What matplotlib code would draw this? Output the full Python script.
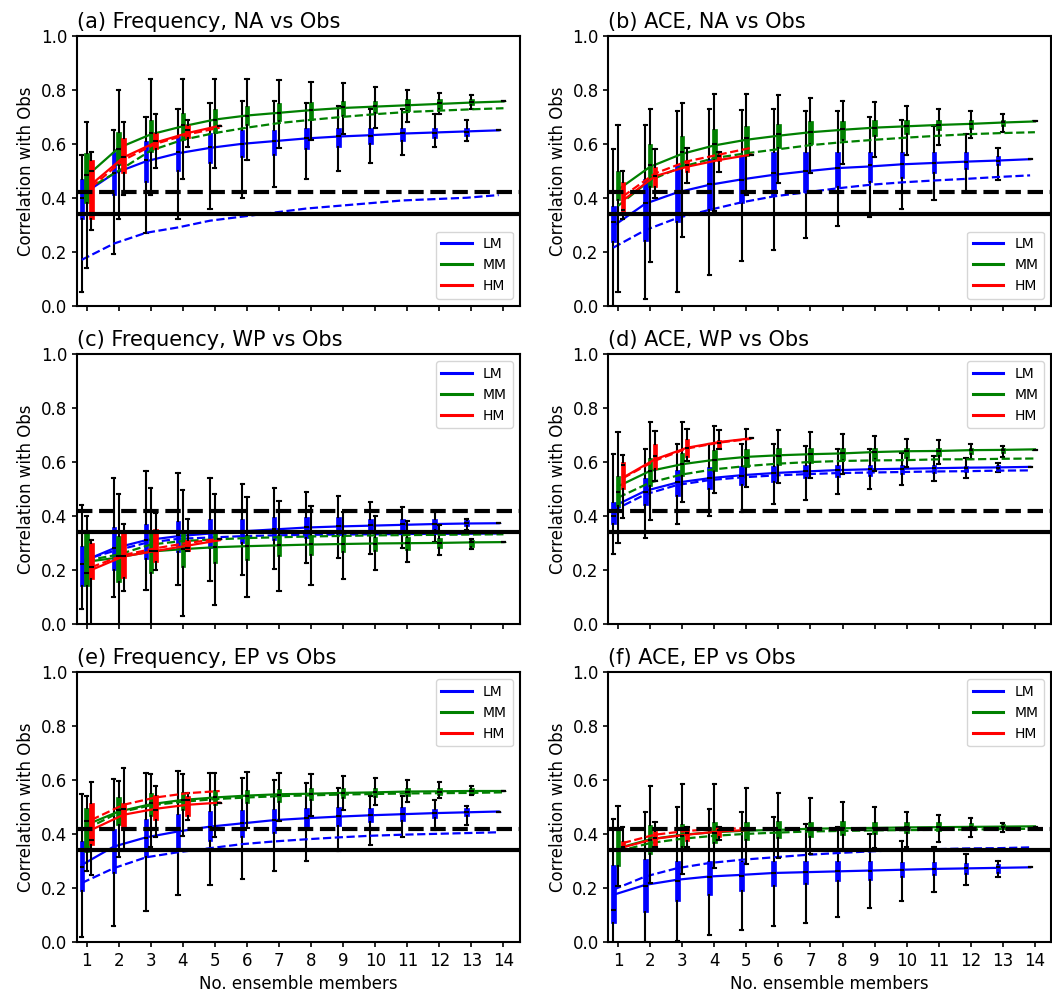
import numpy as np
import matplotlib.pyplot as plt
from matplotlib.lines import Line2D

# box rows: whisker low, q1, median, q3, whisker high (one row per ensemble size)
# (a) Frequency, NA
a_lm_box = [[0.05, 0.32, 0.40, 0.47, 0.56], [0.19, 0.41, 0.49, 0.57, 0.65],
            [0.27, 0.46, 0.54, 0.61, 0.70], [0.32, 0.50, 0.57, 0.63, 0.73],
            [0.36, 0.53, 0.59, 0.64, 0.75], [0.40, 0.55, 0.60, 0.65, 0.76],
            [0.44, 0.56, 0.61, 0.65, 0.76], [0.47, 0.58, 0.62, 0.66, 0.75],
            [0.50, 0.59, 0.63, 0.66, 0.74], [0.53, 0.60, 0.63, 0.66, 0.73],
            [0.56, 0.61, 0.64, 0.66, 0.73], [0.59, 0.62, 0.64, 0.66, 0.71],
            [0.61, 0.63, 0.645, 0.66, 0.69], [0.65] * 5]
a_lm_solid = [0.41, 0.49, 0.535, 0.565, 0.585, 0.60, 0.61, 0.62, 0.627, 0.632, 0.638, 0.642, 0.646, 0.65]
a_lm_dash = [0.17, 0.23, 0.27, 0.29, 0.315, 0.33, 0.345, 0.36, 0.37, 0.38, 0.39, 0.395, 0.40, 0.41]
a_mm_box = [[0.14, 0.38, 0.485, 0.565, 0.68], [0.32, 0.52, 0.58, 0.645, 0.80],
            [0.41, 0.57, 0.64, 0.69, 0.84], [0.47, 0.615, 0.67, 0.715, 0.84],
            [0.51, 0.64, 0.69, 0.73, 0.84], [0.54, 0.67, 0.705, 0.74, 0.84],
            [0.585, 0.685, 0.715, 0.75, 0.835], [0.615, 0.69, 0.725, 0.755, 0.83],
            [0.635, 0.705, 0.735, 0.76, 0.825], [0.66, 0.715, 0.74, 0.76, 0.81],
            [0.68, 0.72, 0.745, 0.765, 0.80], [0.71, 0.73, 0.75, 0.765, 0.79],
            [0.73, 0.745, 0.755, 0.765, 0.78], [0.757] * 5]
a_mm_solid = [0.48, 0.585, 0.635, 0.665, 0.69, 0.705, 0.715, 0.725, 0.733, 0.738, 0.743, 0.748, 0.753, 0.757]
a_mm_dash = [0.43, 0.50, 0.575, 0.615, 0.64, 0.66, 0.677, 0.689, 0.70, 0.71, 0.718, 0.723, 0.728, 0.732]
a_hm_box = [[0.28, 0.32, 0.50, 0.54, 0.57], [0.41, 0.49, 0.55, 0.62, 0.68],
            [0.51, 0.58, 0.61, 0.64, 0.71], [0.59, 0.62, 0.65, 0.67, 0.69], [0.667] * 5]
a_hm_solid = [0.45, 0.55, 0.605, 0.64, 0.667]
a_hm_dash = [0.44, 0.54, 0.60, 0.635, 0.66]

# (b) ACE, NA
b_lm_box = [[0.0, 0.235, 0.31, 0.37, 0.58], [0.025, 0.24, 0.38, 0.47, 0.67],
            [0.05, 0.31, 0.42, 0.52, 0.72], [0.115, 0.355, 0.45, 0.545, 0.73],
            [0.165, 0.38, 0.465, 0.555, 0.725], [0.205, 0.405, 0.49, 0.57, 0.73],
            [0.25, 0.42, 0.50, 0.57, 0.72], [0.295, 0.44, 0.51, 0.57, 0.72],
            [0.33, 0.46, 0.52, 0.57, 0.70], [0.36, 0.475, 0.525, 0.57, 0.69],
            [0.39, 0.49, 0.53, 0.57, 0.665], [0.42, 0.505, 0.532, 0.568, 0.635],
            [0.465, 0.52, 0.538, 0.555, 0.585], [0.543] * 5]
b_lm_solid = [0.295, 0.378, 0.42, 0.448, 0.468, 0.485, 0.498, 0.51, 0.516, 0.524, 0.529, 0.534, 0.538, 0.543]
b_lm_dash = [0.215, 0.28, 0.325, 0.355, 0.383, 0.405, 0.42, 0.435, 0.448, 0.457, 0.464, 0.47, 0.477, 0.483]
b_mm_box = [[0.05, 0.39, 0.42, 0.50, 0.67], [0.16, 0.44, 0.52, 0.60, 0.73],
            [0.255, 0.515, 0.57, 0.63, 0.75], [0.35, 0.54, 0.60, 0.655, 0.785],
            [0.41, 0.555, 0.62, 0.665, 0.785], [0.455, 0.585, 0.635, 0.675, 0.78],
            [0.49, 0.60, 0.645, 0.685, 0.77], [0.525, 0.615, 0.655, 0.685, 0.76],
            [0.55, 0.63, 0.66, 0.69, 0.755], [0.56, 0.635, 0.665, 0.69, 0.74],
            [0.595, 0.65, 0.67, 0.69, 0.73], [0.62, 0.655, 0.675, 0.69, 0.72],
            [0.645, 0.665, 0.68, 0.69, 0.71], [0.683] * 5]
b_mm_solid = [0.43, 0.515, 0.563, 0.594, 0.615, 0.63, 0.643, 0.652, 0.66, 0.665, 0.67, 0.674, 0.679, 0.683]
b_mm_dash = [0.37, 0.465, 0.515, 0.547, 0.565, 0.58, 0.595, 0.606, 0.615, 0.623, 0.63, 0.636, 0.64, 0.643]
b_hm_box = [[0.32, 0.345, 0.355, 0.46, 0.50], [0.40, 0.44, 0.48, 0.515, 0.58],
            [0.455, 0.495, 0.52, 0.54, 0.585], [0.495, 0.535, 0.555, 0.563, 0.57], [0.56] * 5]
b_hm_solid = [0.39, 0.48, 0.515, 0.54, 0.56]
b_hm_dash = [0.405, 0.49, 0.535, 0.56, 0.585]

# (c) Frequency, WP
c_lm_box = [[0.056, 0.14, 0.22, 0.29, 0.44], [0.10, 0.20, 0.28, 0.36, 0.54],
            [0.125, 0.24, 0.31, 0.37, 0.565], [0.145, 0.265, 0.33, 0.38, 0.56],
            [0.16, 0.28, 0.34, 0.39, 0.54], [0.18, 0.30, 0.345, 0.39, 0.52],
            [0.205, 0.31, 0.35, 0.395, 0.505], [0.225, 0.32, 0.36, 0.395, 0.49],
            [0.245, 0.33, 0.363, 0.395, 0.475], [0.26, 0.34, 0.365, 0.387, 0.452],
            [0.28, 0.34, 0.369, 0.387, 0.435], [0.305, 0.348, 0.371, 0.387, 0.415],
            [0.348, 0.363, 0.373, 0.385, 0.39], [0.373] * 5]
c_lm_solid = [0.23, 0.28, 0.31, 0.325, 0.335, 0.343, 0.35, 0.357, 0.361, 0.364, 0.367, 0.37, 0.372, 0.373]
c_lm_dash = [0.235, 0.27, 0.30, 0.315, 0.32, 0.325, 0.328, 0.33, 0.331, 0.332, 0.333, 0.334, 0.334, 0.335]
c_mm_box = [[-0.02, 0.14, 0.19, 0.34, 0.40], [-0.02, 0.155, 0.25, 0.325, 0.48],
            [-0.01, 0.19, 0.27, 0.34, 0.505], [0.03, 0.21, 0.278, 0.34, 0.495],
            [0.07, 0.225, 0.285, 0.34, 0.48], [0.10, 0.235, 0.288, 0.33, 0.47],
            [0.12, 0.25, 0.292, 0.33, 0.455], [0.145, 0.255, 0.295, 0.33, 0.437],
            [0.165, 0.265, 0.297, 0.325, 0.415], [0.20, 0.27, 0.297, 0.323, 0.40],
            [0.23, 0.275, 0.30, 0.323, 0.38], [0.255, 0.28, 0.30, 0.32, 0.365],
            [0.278, 0.286, 0.303, 0.311, 0.313], [0.303] * 5]
c_mm_solid = [0.23, 0.246, 0.268, 0.277, 0.284, 0.288, 0.291, 0.294, 0.296, 0.298, 0.299, 0.30, 0.302, 0.303]
c_mm_dash = [0.235, 0.257, 0.294, 0.307, 0.313, 0.318, 0.321, 0.324, 0.326, 0.328, 0.329, 0.33, 0.331, 0.332]
c_hm_box = [[-0.02, 0.165, 0.21, 0.30, 0.31], [0.12, 0.17, 0.25, 0.34, 0.37],
            [0.20, 0.23, 0.27, 0.35, 0.41], [0.27, 0.27, 0.28, 0.31, 0.39], [0.316] * 5]
c_hm_solid = [0.20, 0.25, 0.27, 0.29, 0.31]
c_hm_dash = [0.21, 0.255, 0.28, 0.30, 0.315]

# (d) ACE, WP
d_lm_box = [[0.26, 0.37, 0.40, 0.45, 0.63], [0.32, 0.44, 0.49, 0.54, 0.65],
            [0.37, 0.475, 0.525, 0.57, 0.665], [0.40, 0.50, 0.54, 0.58, 0.665],
            [0.415, 0.515, 0.55, 0.585, 0.665], [0.445, 0.525, 0.56, 0.585, 0.665],
            [0.46, 0.54, 0.567, 0.588, 0.66], [0.48, 0.545, 0.571, 0.588, 0.65],
            [0.50, 0.55, 0.573, 0.588, 0.647], [0.515, 0.555, 0.575, 0.588, 0.632],
            [0.53, 0.56, 0.578, 0.588, 0.623], [0.542, 0.563, 0.578, 0.585, 0.615],
            [0.563, 0.571, 0.579, 0.588, 0.598], [0.582] * 5]
d_lm_solid = [0.435, 0.493, 0.524, 0.54, 0.551, 0.559, 0.565, 0.57, 0.573, 0.575, 0.577, 0.579, 0.58, 0.582]
d_lm_dash = [0.42, 0.48, 0.515, 0.533, 0.543, 0.55, 0.555, 0.559, 0.561, 0.563, 0.565, 0.566, 0.568, 0.569]
d_mm_box = [[0.30, 0.437, 0.49, 0.55, 0.71], [0.385, 0.51, 0.567, 0.615, 0.75],
            [0.45, 0.548, 0.592, 0.632, 0.75], [0.486, 0.567, 0.608, 0.644, 0.734],
            [0.507, 0.58, 0.616, 0.65, 0.722], [0.524, 0.588, 0.623, 0.651, 0.718],
            [0.54, 0.598, 0.629, 0.651, 0.713], [0.554, 0.606, 0.635, 0.653, 0.705],
            [0.567, 0.61, 0.637, 0.653, 0.697], [0.583, 0.616, 0.641, 0.653, 0.687],
            [0.592, 0.623, 0.641, 0.651, 0.681], [0.61, 0.629, 0.644, 0.651, 0.668],
            [0.62, 0.632, 0.645, 0.653, 0.66], [0.645] * 5]
d_mm_solid = [0.51, 0.567, 0.592, 0.608, 0.619, 0.625, 0.629, 0.632, 0.637, 0.64, 0.641, 0.644, 0.645, 0.647]
d_mm_dash = [0.468, 0.524, 0.554, 0.573, 0.585, 0.594, 0.60, 0.604, 0.606, 0.607, 0.61, 0.61, 0.612, 0.613]
d_hm_box = [[0.394, 0.50, 0.59, 0.60, 0.625], [0.53, 0.573, 0.622, 0.666, 0.715],
            [0.604, 0.62, 0.653, 0.687, 0.724], [0.65, 0.65, 0.672, 0.681, 0.718], [0.688] * 5]
d_hm_solid = [0.542, 0.61, 0.653, 0.674, 0.688]
d_hm_dash = [0.54, 0.605, 0.65, 0.672, 0.686]

# (e) Frequency, EP
e_lm_box = [[0.02, 0.19, 0.28, 0.375, 0.55], [0.06, 0.255, 0.34, 0.42, 0.605],
            [0.115, 0.315, 0.385, 0.457, 0.628], [0.173, 0.346, 0.414, 0.475, 0.636],
            [0.21, 0.373, 0.426, 0.486, 0.626], [0.235, 0.389, 0.441, 0.49, 0.607],
            [0.262, 0.406, 0.453, 0.494, 0.601], [0.30, 0.419, 0.459, 0.496, 0.589],
            [0.336, 0.431, 0.468, 0.499, 0.573], [0.36, 0.444, 0.472, 0.496, 0.54],
            [0.388, 0.449, 0.475, 0.50, 0.54], [0.414, 0.459, 0.478, 0.494, 0.527],
            [0.435, 0.469, 0.484, 0.496, 0.506], [0.484] * 5]
e_lm_solid = [0.286, 0.354, 0.388, 0.41, 0.428, 0.44, 0.452, 0.459, 0.465, 0.47, 0.474, 0.478, 0.481, 0.484]
e_lm_dash = [0.219, 0.274, 0.314, 0.333, 0.348, 0.363, 0.373, 0.381, 0.388, 0.394, 0.398, 0.401, 0.404, 0.407]
e_mm_box = [[0.262, 0.333, 0.447, 0.496, 0.543], [0.314, 0.435, 0.49, 0.536, 0.598],
            [0.354, 0.469, 0.515, 0.552, 0.623], [0.394, 0.49, 0.527, 0.558, 0.623],
            [0.391, 0.509, 0.536, 0.564, 0.628], [0.422, 0.515, 0.542, 0.564, 0.632],
            [0.447, 0.521, 0.546, 0.568, 0.626], [0.469, 0.527, 0.549, 0.57, 0.622],
            [0.49, 0.533, 0.552, 0.57, 0.614], [0.509, 0.537, 0.556, 0.573, 0.607],
            [0.521, 0.542, 0.558, 0.57, 0.599], [0.533, 0.546, 0.558, 0.57, 0.593],
            [0.546, 0.548, 0.56, 0.57, 0.577], [0.56] * 5]
e_mm_solid = [0.435, 0.484, 0.511, 0.527, 0.536, 0.543, 0.548, 0.55, 0.553, 0.555, 0.558, 0.559, 0.56, 0.56]
e_mm_dash = [0.42, 0.48, 0.507, 0.52, 0.53, 0.536, 0.541, 0.544, 0.547, 0.549, 0.551, 0.552, 0.553, 0.555]
e_hm_box = [[0.249, 0.358, 0.377, 0.515, 0.593], [0.342, 0.416, 0.494, 0.517, 0.647],
            [0.388, 0.453, 0.488, 0.546, 0.58], [0.453, 0.469, 0.525, 0.54, 0.552], [0.517] * 5]
e_hm_solid = [0.416, 0.472, 0.494, 0.509, 0.517]
e_hm_dash = [0.453, 0.509, 0.536, 0.552, 0.56]

# (f) ACE, EP
f_lm_box = [[-0.01, 0.07, 0.12, 0.286, 0.456], [0.0, 0.111, 0.206, 0.309, 0.484],
            [0.002, 0.153, 0.225, 0.301, 0.502], [0.025, 0.175, 0.24, 0.299, 0.494],
            [0.043, 0.191, 0.246, 0.299, 0.484], [0.058, 0.206, 0.256, 0.301, 0.462],
            [0.07, 0.216, 0.259, 0.301, 0.437], [0.091, 0.225, 0.262, 0.299, 0.425],
            [0.128, 0.231, 0.265, 0.299, 0.40], [0.153, 0.24, 0.268, 0.296, 0.375],
            [0.184, 0.247, 0.272, 0.295, 0.351], [0.21, 0.252, 0.274, 0.293, 0.326],
            [0.241, 0.256, 0.277, 0.289, 0.299], [0.277] * 5]
f_lm_solid = [0.175, 0.212, 0.231, 0.243, 0.249, 0.256, 0.259, 0.262, 0.265, 0.268, 0.271, 0.273, 0.275, 0.277]
f_lm_dash = [0.194, 0.243, 0.274, 0.293, 0.305, 0.314, 0.323, 0.33, 0.336, 0.341, 0.344, 0.347, 0.348, 0.351]
f_mm_box = [[0.206, 0.283, 0.342, 0.416, 0.505], [0.219, 0.326, 0.379, 0.435, 0.577],
            [0.252, 0.351, 0.395, 0.437, 0.585], [0.274, 0.367, 0.404, 0.444, 0.585],
            [0.289, 0.379, 0.414, 0.444, 0.573], [0.311, 0.385, 0.416, 0.447, 0.552],
            [0.326, 0.391, 0.416, 0.444, 0.533], [0.336, 0.398, 0.422, 0.447, 0.519],
            [0.348, 0.40, 0.422, 0.444, 0.50], [0.354, 0.404, 0.425, 0.444, 0.484],
            [0.37, 0.41, 0.426, 0.444, 0.472], [0.391, 0.414, 0.426, 0.441, 0.459],
            [0.407, 0.419, 0.428, 0.437, 0.443], [0.428] * 5]
f_mm_solid = [0.348, 0.381, 0.398, 0.407, 0.413, 0.416, 0.42, 0.422, 0.423, 0.425, 0.426, 0.427, 0.428, 0.429]
f_mm_dash = [0.336, 0.367, 0.383, 0.394, 0.401, 0.406, 0.41, 0.412, 0.414, 0.415, 0.416, 0.417, 0.419, 0.42]
f_hm_box = [[0.34, 0.342, 0.354, 0.373, 0.425], [0.351, 0.354, 0.385, 0.41, 0.444],
            [0.354, 0.375, 0.404, 0.422, 0.425], [0.379, 0.391, 0.414, 0.422, 0.425], [0.416] * 5]
f_hm_solid = [0.351, 0.383, 0.398, 0.41, 0.416]
f_hm_dash = [0.367, 0.398, 0.412, 0.42, 0.422]

titles = ["(a) Frequency, NA vs Obs", "(b) ACE, NA vs Obs",
          "(c) Frequency, WP vs Obs", "(d) ACE, WP vs Obs",
          "(e) Frequency, EP vs Obs", "(f) ACE, EP vs Obs"]
obs_solid = 0.34
obs_dash = 0.42

models = ["LM", "MM", "HM"]
colors = ["blue", "green", "red"]
offsets = [-0.15, 0.0, 0.15]

panels = [
    ([a_lm_box, a_mm_box, a_hm_box], [a_lm_solid, a_mm_solid, a_hm_solid], [a_lm_dash, a_mm_dash, a_hm_dash]),
    ([b_lm_box, b_mm_box, b_hm_box], [b_lm_solid, b_mm_solid, b_hm_solid], [b_lm_dash, b_mm_dash, b_hm_dash]),
    ([c_lm_box, c_mm_box, c_hm_box], [c_lm_solid, c_mm_solid, c_hm_solid], [c_lm_dash, c_mm_dash, c_hm_dash]),
    ([d_lm_box, d_mm_box, d_hm_box], [d_lm_solid, d_mm_solid, d_hm_solid], [d_lm_dash, d_mm_dash, d_hm_dash]),
    ([e_lm_box, e_mm_box, e_hm_box], [e_lm_solid, e_mm_solid, e_hm_solid], [e_lm_dash, e_mm_dash, e_hm_dash]),
    ([f_lm_box, f_mm_box, f_hm_box], [f_lm_solid, f_mm_solid, f_hm_solid], [f_lm_dash, f_mm_dash, f_hm_dash]),
]


def to_stats(rows):
    keys = ["whislo", "q1", "med", "q3", "whishi"]
    return [dict(zip(keys, r), fliers=[]) for r in rows]


fig, axes = plt.subplots(3, 2, figsize=(10.52, 9.96), dpi=100)
fig.subplots_adjust(left=0.0732, right=0.999, top=0.9639, bottom=0.0542,
                    wspace=0.201, hspace=0.18)

for i, ax in enumerate(axes.flat):
    boxes, solids, dashes = panels[i]
    for box, sol, dsh, c, off in zip(boxes, solids, dashes, colors, offsets):
        pos = np.arange(1, len(box) + 1) + off
        ax.bxp(to_stats(box), positions=pos, widths=0.14, capwidths=0.1,
               patch_artist=True, showfliers=False, manage_ticks=False,
               boxprops=dict(facecolor=c, edgecolor=c, linewidth=0.5),
               medianprops=dict(color="k", linewidth=1.5),
               whiskerprops=dict(color="k", linewidth=1.5),
               capprops=dict(color="k", linewidth=1.5))
        ax.plot(pos, sol, color=c, lw=1.6)
        ax.plot(pos, dsh, color=c, lw=1.6, ls="--")
    ax.axhline(obs_solid, color="k", lw=3, zorder=4)
    ax.axhline(obs_dash, color="k", lw=3, ls="--", zorder=4)

    ax.set_xlim(0.7, 14.5)
    ax.set_ylim(0, 1)
    ax.set_xticks(np.arange(1, 15))
    ax.set_yticks(np.arange(0, 1.01, 0.2))
    ax.set_yticklabels([f"{v:.1f}" for v in np.arange(0, 1.01, 0.2)])
    ax.tick_params(labelsize=12, width=1.2)
    for sp in ax.spines.values():
        sp.set_linewidth(1.5)
    ax.set_title(titles[i], loc="left", fontsize=15)
    ax.set_ylabel("Correlation with Obs", fontsize=12)
    if i >= 4:
        ax.set_xlabel("No. ensemble members", fontsize=12)
    else:
        ax.set_xticklabels([])

    handles = [Line2D([], [], color=c, lw=2.2) for c in colors]
    ax.legend(handles, models, loc="lower right" if i < 2 else "upper right",
              fontsize=10, handlelength=2.2)

fig.savefig("out.png", dpi=100)
